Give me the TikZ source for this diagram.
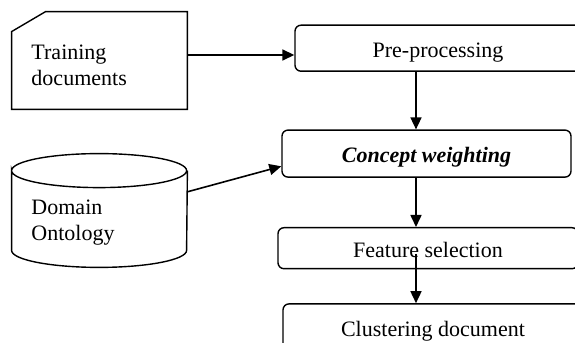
\documentclass[tikz,border=0pt]{standalone}
\usepackage{fontspec}
\setmainfont{Liberation Serif}
\usetikzlibrary{arrows.meta}
\newcommand{\pxsize}{0.5pt}

\begin{document}
\begin{tikzpicture}[
	flow/.style={line width=0.8pt, -{Triangle[length=6pt,width=5.5pt]}},
	border/.style={draw, line width=0.7pt},
	stepbox/.style={border,
			rounded corners=3pt,
			inner sep=0pt,
			text height=9.1pt,
			text depth=0pt,
			font=\fontsize{11}{13}\selectfont
			},
	store/.style={inner sep=0pt,
			minimum width=175*\pxsize,
			text width=68pt,
			align=left,
			font=\fontsize{11}{13}\selectfont,
			execute at begin node={\rule{0pt}{#1}}
			}
	]
\useasboundingbox (0,0) rectangle (575*\pxsize,343*\pxsize);
\clip (0,0) rectangle (575*\pxsize,343*\pxsize);


\node[stepbox, minimum width=286*\pxsize, minimum height=46*\pxsize] (pre) at (438*\pxsize,294.8*\pxsize) {Pre-processing};
    

\node[stepbox, minimum width=289*\pxsize, minimum height=47*\pxsize, font=\fontsize{11}{13}\selectfont\bfseries\itshape] (concept) at (426.5*\pxsize,189.4*\pxsize) {Concept weighting};
    

\node[stepbox, minimum width=300*\pxsize, minimum height=41*\pxsize] (feat) at (428*\pxsize,94.8*\pxsize) {Feature selection};
    

\node[stepbox, minimum width=300*\pxsize, minimum height=48*\pxsize] (clus) at (433*\pxsize,15.1*\pxsize) {Clustering document};
    

% input documents (card) and ontology (cylinder)
\node[store=11.9pt, minimum height=97*\pxsize] (train) at (99.5*\pxsize,282.5*\pxsize) {Training\\documents};
    

\draw[border] ([yshift=-20*\pxsize]train.north west) -- ([xshift=34*\pxsize]train.north west) -- (train.north east) -- (train.south east) -- (train.south west) -- cycle;
    

\node[store=18.9pt, minimum height=113*\pxsize] (onto) at (99.5*\pxsize,132.5*\pxsize) {Domain\\Ontology};
    

\draw[border] ([yshift=-17*\pxsize]onto.north west) arc[start angle=180, end angle=-180, x radius=87.5*\pxsize, y radius=17*\pxsize]
	-- ([yshift=17*\pxsize]onto.south west) arc[start angle=180, end angle=360, x radius=87.5*\pxsize, y radius=17*\pxsize]
	-- ([yshift=-17*\pxsize]onto.north east);
    

\coordinate (inrow) at (0,288*\pxsize);

\coordinate (spine) at (416*\pxsize,0);

\coordinate (featstart) at (416*\pxsize,89*\pxsize);
    

\draw[flow] (train.east |- inrow) -- (pre.west |- inrow);
    

\draw[flow] (pre.south -| spine) -- (concept.north -| spine);
    

\draw[flow] (onto.12.6) -- (concept.185.7);
    

\draw[flow] (concept.south -| spine) -- (feat.north -| spine);
    

\draw[flow] (featstart) -- (clus.north -| featstart);
    

\end{tikzpicture}
\end{document}
